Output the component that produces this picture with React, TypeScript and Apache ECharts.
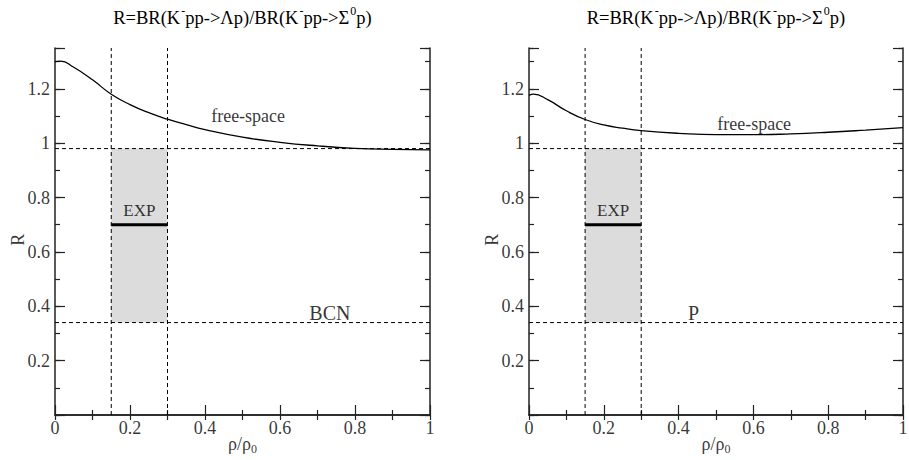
import React, { useEffect, useRef } from "react";
import * as echarts from "echarts";

const FONT = "Liberation Serif";

// x positions (rho/rho0) and R values
const xLeft = [0, 0.015, 0.05, 0.1, 0.15, 0.2, 0.25, 0.3, 0.35, 0.4, 0.5, 0.6, 0.7, 0.8, 0.9, 1.0];
const rBCN = [1.3, 1.302, 1.279, 1.233, 1.18, 1.142, 1.112, 1.088, 1.068, 1.05, 1.022, 1.003, 0.99, 0.981, 0.977, 0.975];
const xRight = [0, 0.012, 0.05, 0.1, 0.15, 0.2, 0.25, 0.3, 0.4, 0.5, 0.6, 0.7, 0.8, 0.9, 1.0];
const rP = [1.176, 1.18, 1.16, 1.119, 1.087, 1.067, 1.055, 1.046, 1.036, 1.031, 1.031, 1.034, 1.04, 1.048, 1.057];

// experimental band and value
const expRange = [0.15, 0.3];
const expBand = [0.34, 0.98];
const expValue = 0.7;

// tick labels
const xTickVals = [0, 0.2, 0.4, 0.6, 0.8, 1];
const xTickLabels = ["0", "0.2", "0.4", "0.6", "0.8", "1"];
const yTickVals = [0.2, 0.4, 0.6, 0.8, 1, 1.2];
const yTickLabels = ["0.2", "0.4", "0.6", "0.8", "1", "1.2"];

const panelLabels = ["BCN", "P"];
const panelLabelPos = [[0.733, 0.375], [0.44, 0.375]];
const freeSpacePos = [[0.515, 1.1], [0.602, 1.072]];
const expLabelPos = [0.225, 0.753];
const yNamePos = [-0.099, 0.645];
const xNamePos = [0.5, -0.108];

const Y_MAX = 1.35;

export default function App() {
  const ref = useRef<HTMLDivElement>(null);
  useEffect(() => {
    if (!ref.current) return;
    const chart = echarts.init(ref.current, null, { renderer: "svg" });
    const grids = [
      { left: 55, top: 42, width: 375, height: 373 },
      { left: 529, top: 42, width: 374, height: 373 },
    ];
    const xAxes: any[] = [];
    const yAxes: any[] = [];
    const series: any[] = [];
    const lineColor = "#222";
    const titleRich = {
      t: { fontFamily: FONT, fontSize: 18.5, color: "#000", lineHeight: 26 },
      sup: { fontFamily: FONT, fontSize: 12, color: "#000", verticalAlign: "top", lineHeight: 26, padding: [0, 0, 0, 1] },
    };
    for (let p = 0; p < 2; p++) {
      xAxes.push({
        gridIndex: p,
        type: "value",
        position: "bottom",
        min: 0,
        max: 1,
        interval: 0.2,
        axisLine: { show: true, lineStyle: { color: lineColor, width: 1.5 } },
        axisTick: { show: true, inside: true, length: 10, lineStyle: { color: lineColor, width: 1.2 } },
        minorTick: { show: true, splitNumber: 2, length: 5, lineStyle: { color: lineColor, width: 1.2 } },
        axisLabel: { show: false },
        splitLine: { show: false },
      });
      xAxes.push({
        gridIndex: p,
        type: "value",
        position: "top",
        min: 0,
        max: 1,
        interval: 0.1,
        name: "{t|R=BR(K}{sup|-}{t|pp->Λp)/BR(K}{sup|-}{t|pp->Σ}{sup|0}{t|p)}",
        nameLocation: "middle",
        nameGap: 17,
        nameTextStyle: { fontFamily: FONT, fontSize: 18.5, color: "#000", rich: titleRich },
        axisLine: { show: true, lineStyle: { color: lineColor, width: 1.5 } },
        axisTick: { show: true, inside: true, length: 5, lineStyle: { color: lineColor, width: 1.2 } },
        axisLabel: { show: false },
        splitLine: { show: false },
      });
      for (const pos of ["left", "right"]) {
        yAxes.push({
          gridIndex: p,
          type: "value",
          position: pos,
          min: 0,
          max: Y_MAX,
          interval: 0.2,
          axisLine: { show: true, lineStyle: { color: lineColor, width: 1.5 } },
          axisTick: { show: true, inside: true, length: 10, lineStyle: { color: lineColor, width: 1.2 } },
          axisLabel: { show: false },
          splitLine: { show: false },
        });
        yAxes.push({
          gridIndex: p,
          type: "value",
          position: pos,
          min: 0,
          max: Y_MAX,
          interval: 0.1,
          axisLine: { show: false },
          axisTick: { show: true, inside: true, length: 5, lineStyle: { color: lineColor, width: 1.2 } },
          axisLabel: { show: false },
          splitLine: { show: false },
        });
      }
      const xi = 2 * p;
      const yi = 4 * p;
      const dashed = { color: "#000", width: 1, type: [4, 3] as any };
      // gray experimental band
      series.push({
        type: "line",
        xAxisIndex: xi,
        yAxisIndex: yi,
        data: [],
        silent: true,
        markArea: {
          silent: true,
          itemStyle: { color: "#dcdcdc" },
          data: [[{ xAxis: expRange[0], yAxis: expBand[0] }, { xAxis: expRange[1], yAxis: expBand[1] }]],
        },
      });
      // dashed guide lines
      for (const xv of expRange) {
        series.push({
          type: "line", xAxisIndex: xi, yAxisIndex: yi, symbol: "none", silent: true,
          lineStyle: dashed, data: [[xv, 0], [xv, Y_MAX]],
        });
      }
      for (const yv of expBand) {
        series.push({
          type: "line", xAxisIndex: xi, yAxisIndex: yi, symbol: "none", silent: true,
          lineStyle: dashed, data: [[0, yv], [1, yv]],
        });
      }
      // EXP bar
      series.push({
        type: "line", xAxisIndex: xi, yAxisIndex: yi, symbol: "none", silent: true,
        lineStyle: { color: "#000", width: 3 },
        data: [[expRange[0], expValue], [expRange[1], expValue]],
      });
      // free-space curve
      const xs = p === 0 ? xLeft : xRight;
      const ys = p === 0 ? rBCN : rP;
      series.push({
        type: "line", xAxisIndex: xi, yAxisIndex: yi, symbol: "none", smooth: 0.5, silent: true,
        lineStyle: { color: "#000", width: 1.3 },
        data: xs.map((x, i) => [x, ys[i]]),
      });
      // text annotations
      const txt = (pos: number[], text: string, size: number, extra: any = {}) => ({
        value: pos,
        label: {
          show: true,
          position: "inside",
          formatter: text,
          fontFamily: FONT,
          fontSize: size,
          color: "#000",
          ...extra,
        },
      });
      series.push({
        type: "scatter", xAxisIndex: xi, yAxisIndex: yi, symbolSize: 0, silent: true, clip: false,
        data: [
          txt(freeSpacePos[p], "free-space", 18),
          txt(expLabelPos, "EXP", 17),
          txt(panelLabelPos[p], panelLabels[p], 20),
          txt(yNamePos, "R", 18, { rotate: 90 }),
          txt(xNamePos, "{a|ρ/ρ}{sub|0}", 18, {
            rich: {
              a: { fontFamily: FONT, fontSize: 18, color: "#000", lineHeight: 22 },
              sub: { fontFamily: FONT, fontSize: 12, color: "#000", verticalAlign: "bottom", lineHeight: 22, padding: [8, 0, 0, 0] },
            },
          }),
        ],
      });
      // tick labels
      series.push({
        type: "scatter", xAxisIndex: xi, yAxisIndex: yi, symbolSize: 0, silent: true, clip: false,
        data: xTickVals.map((v, i) => ({
          value: [v, 0],
          label: {
            show: true, position: "bottom", distance: 4, formatter: xTickLabels[i],
            fontFamily: FONT, fontSize: 18, color: "#000",
          },
        })),
      });
      series.push({
        type: "scatter", xAxisIndex: xi, yAxisIndex: yi, symbolSize: 0, silent: true, clip: false,
        data: yTickVals.map((v, i) => ({
          value: [0, v],
          label: {
            show: true, position: "left", distance: 5, formatter: yTickLabels[i],
            fontFamily: FONT, fontSize: 18, color: "#000",
          },
        })),
      });
    }
    chart.setOption({
      animation: false,
      backgroundColor: "#fff",
      textStyle: { fontFamily: FONT, fontSize: 18, color: "#000" },
      grid: grids,
      xAxis: xAxes,
      yAxis: yAxes,
      series,
    });
    return () => chart.dispose();
  }, []);
  return (
    <div
      ref={ref}
      style={{ position: "absolute", left: 0, top: 0, width: 909, height: 460 }}
    />
  );
}
